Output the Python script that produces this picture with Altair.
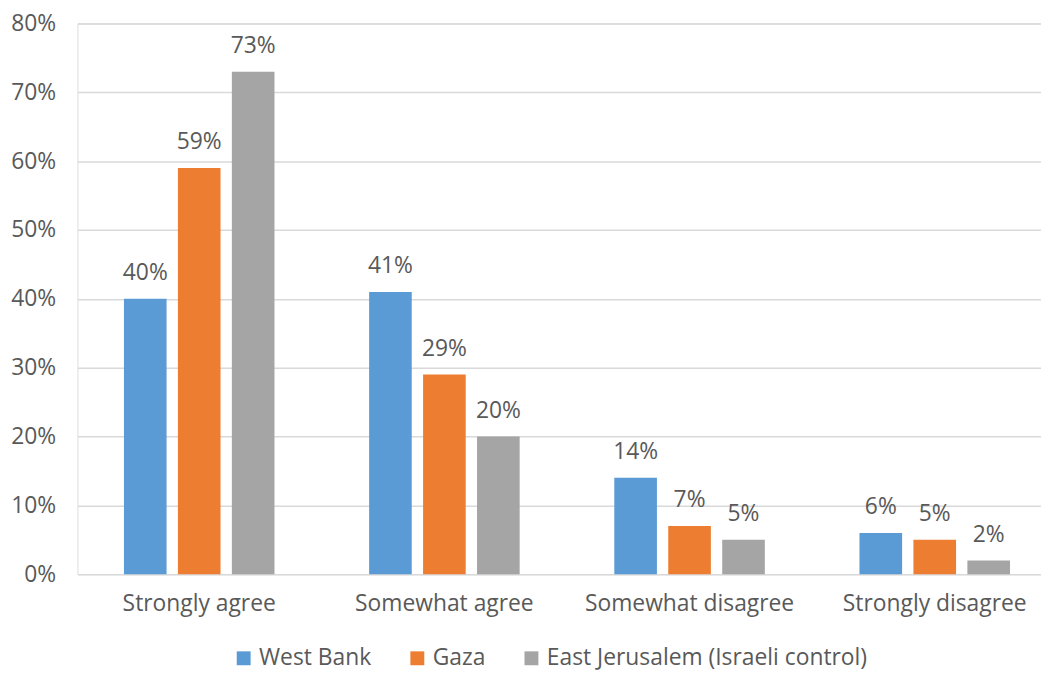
import altair as alt
import pandas as pd

categories = ["Strongly agree", "Somewhat agree", "Somewhat disagree", "Strongly disagree"]
series = ["West Bank", "Gaza", "East Jerusalem (Israeli control)"]
west_bank = [0.40, 0.41, 0.14, 0.06]
gaza = [0.59, 0.29, 0.07, 0.05]
east_jerusalem = [0.73, 0.20, 0.05, 0.02]
colors = ["#5B9BD5", "#ED7D31", "#A5A5A5"]

rows = []
for s, vals in zip(series, [west_bank, gaza, east_jerusalem]):
    for c, v in zip(categories, vals):
        rows.append({"category": c, "series": s, "value": v})
df = pd.DataFrame(rows)

FONT = "Open Sans"
TXT = "#595959"
FS = 23

x = alt.X("category:N", sort=categories, title=None,
          scale=alt.Scale(paddingInner=0.386, paddingOuter=0.158, align=0.60),
          axis=alt.Axis(labelAngle=0, labelFontSize=FS, labelColor=TXT, labelFont=FONT,
                        domain=False, ticks=False, grid=False, labelPadding=19, labelLimit=400))
xo = alt.XOffset("series:N", sort=series,
                 scale=alt.Scale(paddingInner=0.21, paddingOuter=0))
y = alt.Y("value:Q", title=None,
          scale=alt.Scale(domain=[0, 0.8], nice=False),
          axis=alt.Axis(format=".0%", values=[i / 10 for i in range(9)], labelFontSize=FS,
                        labelColor=TXT, labelFont=FONT, domain=False, ticks=False,
                        labelPadding=22, gridColor="#D9D9D9", gridWidth=1.5))
color = alt.Color("series:N", sort=series, title=None,
                  scale=alt.Scale(domain=series, range=colors),
                  legend=alt.Legend(orient="none", legendX=156, legendY=628, direction="horizontal",
                                    labelFontSize=FS, labelColor=TXT, labelFont=FONT,
                                    symbolType="square", symbolSize=196, symbolStrokeWidth=0,
                                    columnPadding=34, labelOffset=4, labelLimit=500))

bars = alt.Chart(df).mark_bar().encode(x=x, xOffset=xo, y=y, color=color)
labels = alt.Chart(df).mark_text(dy=-26, fontSize=FS, font=FONT, color=TXT).encode(
    x=x, xOffset=xo, y=y, text=alt.Text("value:Q", format=".0%"))

chart = (bars + labels).properties(
    width=971, height=555,
    autosize=alt.AutoSizeParams(type="none"),
    padding={"left": 70, "top": 13, "right": 0, "bottom": 100},
).configure_view(stroke=None).configure(background="white")

chart.save("out.html", embed_options={"renderer": "svg", "actions": False})
